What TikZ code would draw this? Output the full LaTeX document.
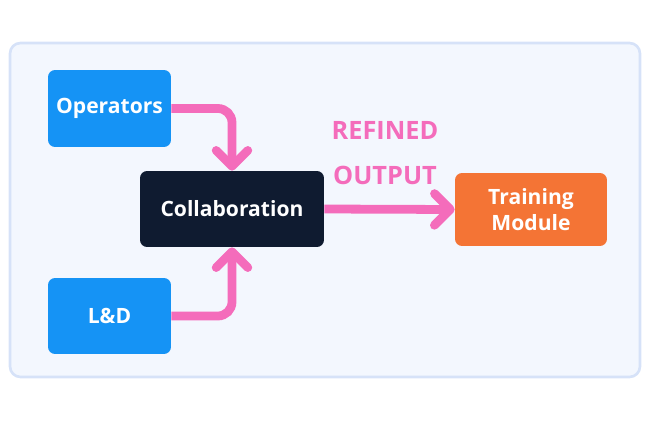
\documentclass[tikz,border=0pt]{standalone}
\usepackage{fontspec}
\setmainfont{Open Sans}
\usetikzlibrary{arrows.meta}
\definecolor{panelfill}{HTML}{F3F7FE}
\definecolor{paneldraw}{HTML}{D6E2F8}
\definecolor{opblue}{HTML}{1593F5}
\definecolor{darknavy}{HTML}{0F1B30}
\definecolor{trainorange}{HTML}{F47435}
\definecolor{flowpink}{HTML}{F46CBB}
\tikzset{
  box/.style={rounded corners=4pt, text=white, font=\bfseries\large, align=center},
  flow/.style={draw=flowpink, line width=5pt, rounded corners=8pt,
    -{Straight Barb[length=9pt, width=18pt, line cap=round, line join=round]}}
}
\begin{document}
\begin{tikzpicture}[x=0.02cm, y=-0.02cm]
\useasboundingbox (0,0) rectangle (650,420);
% Panel
\draw[fill=panelfill, draw=paneldraw, line width=1.5pt, rounded corners=6pt] (10,43) rectangle (640,377);

% Nodes
\node[box, fill=opblue, minimum width=2.46cm, minimum height=1.54cm] (operators) at (109.5,108.5) {Operators};
\node[box, fill=opblue, minimum width=2.46cm, minimum height=1.52cm] (ld) at (109.5,316) {L\&D};
\node[box, fill=darknavy, minimum width=3.68cm, minimum height=1.52cm] (collab) at (232,209) {Collaboration};
\node[box, fill=trainorange, minimum width=3.04cm, minimum height=1.46cm] (training) at (531,209.5) {Training\\[1pt]Module};

% Connectors
\draw[flow] (operators.east) -| (collab.north);
\draw[flow] (ld.east) -| (collab.south);
\draw[flow] (collab.east) -- (training.west);
\node[text=flowpink, font=\bfseries\Large, align=center] (refined) at (385,153) {REFINED\\[8pt]OUTPUT};
\end{tikzpicture}
\end{document}
